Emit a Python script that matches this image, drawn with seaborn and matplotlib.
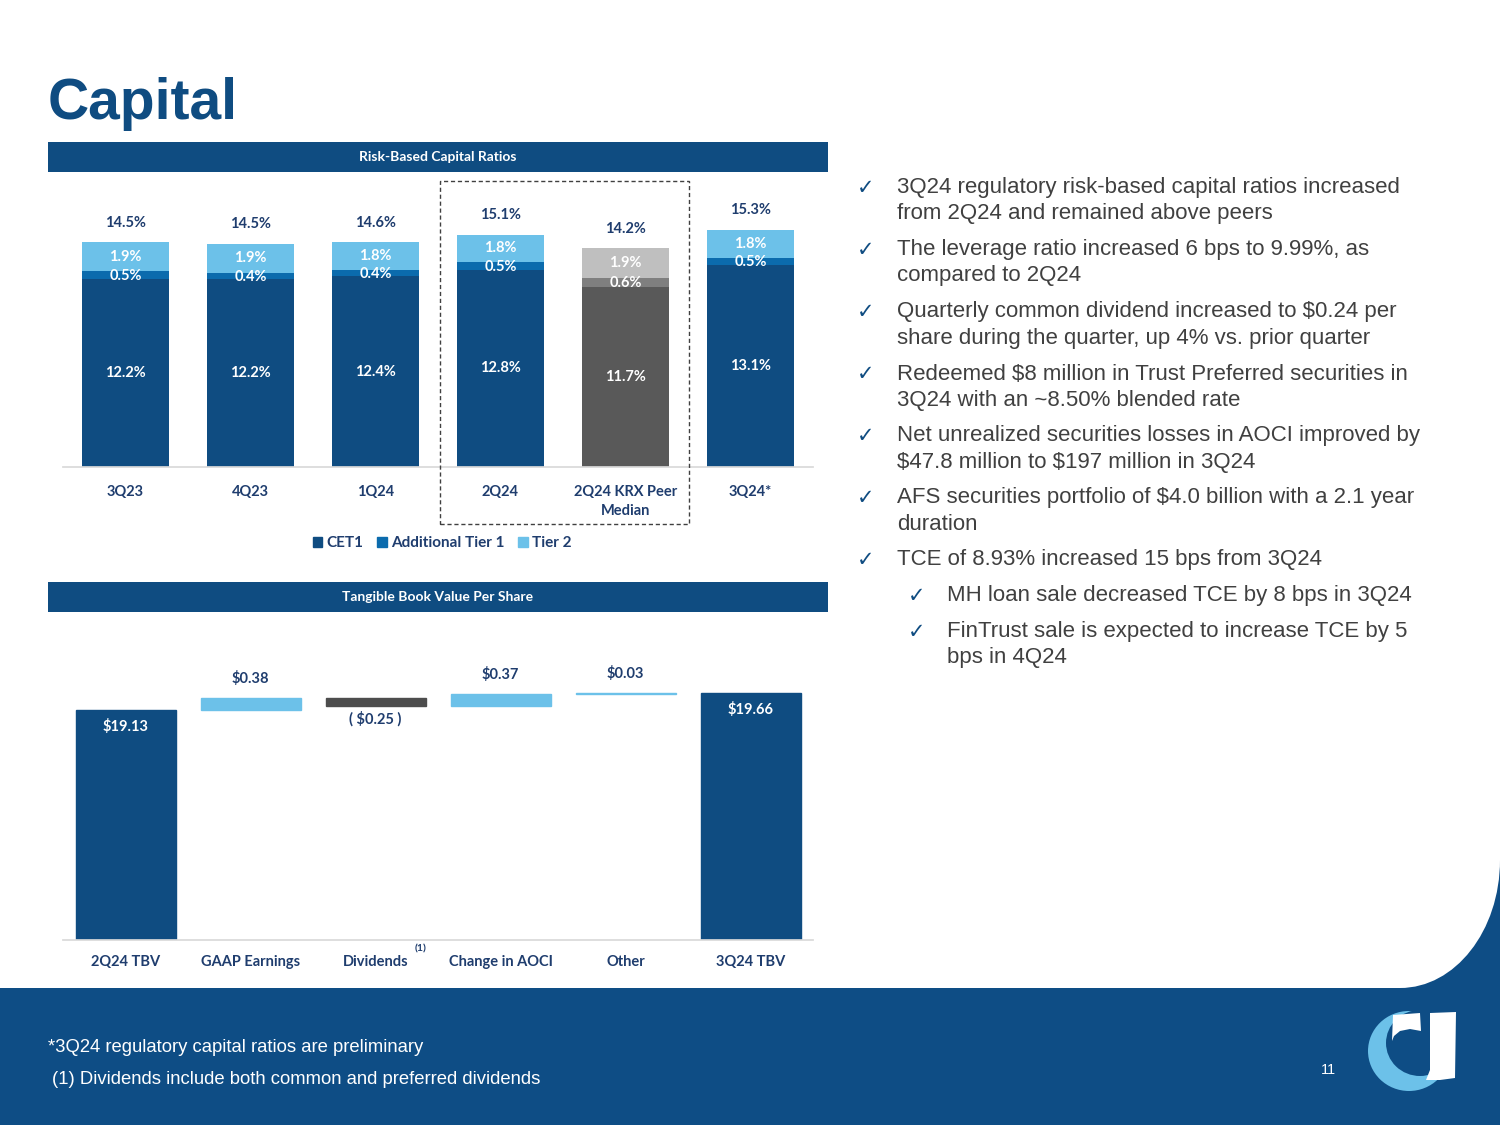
import numpy as np
import pandas as pd
import matplotlib
matplotlib.use('Agg')
import matplotlib.pyplot as plt
import seaborn as sns
from matplotlib.patches import Rectangle, Patch, PathPatch, Ellipse, Polygon
from matplotlib.path import Path

# risk-based capital ratios (%)
periods = ['3Q23', '4Q23', '1Q24', '2Q24', '2Q24 KRX Peer\nMedian', '3Q24*']
peer = '2Q24 KRX Peer\nMedian'
cet1 = [12.2, 12.2, 12.4, 12.8, 11.7, 13.1]
at1 = [0.5, 0.4, 0.4, 0.5, 0.6, 0.5]
tier2 = [1.9, 1.9, 1.8, 1.8, 1.9, 1.8]
totals = [14.5, 14.5, 14.6, 15.1, 14.2, 15.3]

# tangible book value per share walk ($)
tbv_steps = ['2Q24 TBV', 'GAAP Earnings', 'Dividends', 'Change in AOCI', 'Other', '3Q24 TBV']
tbv_start = 19.13
tbv_changes = [0.38, -0.25, 0.37, 0.03]
tbv_end = 19.66

bullets = [
    (0, ['3Q24 regulatory risk-based capital ratios increased', 'from 2Q24 and remained above peers']),
    (0, ['The leverage ratio increased 6 bps to 9.99%, as', 'compared to 2Q24']),
    (0, ['Quarterly common dividend increased to $0.24 per', 'share during the quarter, up 4% vs. prior quarter']),
    (0, ['Redeemed $8 million in Trust Preferred securities in', '3Q24 with an ~8.50% blended rate']),
    (0, ['Net unrealized securities losses in AOCI improved by', '$47.8 million to $197 million in 3Q24']),
    (0, ['AFS securities portfolio of $4.0 billion with a 2.1 year', 'duration']),
    (0, ['TCE of 8.93% increased 15 bps from 3Q24']),
    (1, ['MH loan sale decreased TCE by 8 bps in 3Q24']),
    (1, ['FinTrust sale is expected to increase TCE by 5', 'bps in 4Q24']),
]

NAVY = '#0F4C81'
MID = '#0B6BAD'
LIGHT = '#6CC1E9'
GRAY_D = '#595959'
GRAY_M = '#7F7F7F'
GRAY_L = '#BFBFBF'
LABEL = '#1F3D6E'
TEXT = '#404040'
FOOT = '#0E4D85'

sns.set_theme(style='white')
plt.rcParams['font.family'] = ['Lato', 'DejaVu Sans']

W, H = 1500, 1125
fig = plt.figure(figsize=(15, 11.25), dpi=100)
fig.patch.set_facecolor('white')


def fx(x):
    return x / W


def fy(y):
    return 1 - y / H


# title + section headers
fig.text(fx(48), fy(119), 'Capital', size=41, weight='bold', color=NAVY,
         family='Liberation Sans', va='baseline')
for y0, title in [(142, 'Risk-Based Capital Ratios'), (582, 'Tangible Book Value Per Share')]:
    fig.add_artist(Rectangle((fx(48), fy(y0 + 30)), 780 / W, 30 / H,
                             transform=fig.transFigure, color=NAVY, lw=0))
    fig.text(fx(438), fy(y0 + 15), title, color='white', weight='bold', size=10,
             ha='center', va='center')

# ---- risk-based capital ratios (stacked) ----
ax1 = fig.add_axes([fx(63), fy(467), 750 / W, 287 / H])
df = pd.DataFrame({'period': periods, 'cet1': cet1, 'at1': at1, 'tier2': tier2})
df['top_at1'] = df['cet1'] + df['at1']
df['top_t2'] = df['top_at1'] + df['tier2']

for col, c, c_peer in [('top_t2', LIGHT, GRAY_L), ('top_at1', MID, GRAY_M), ('cet1', NAVY, GRAY_D)]:
    pal = {p: (c_peer if p == peer else c) for p in periods}
    sns.barplot(data=df, x='period', y=col, hue='period', palette=pal, order=periods,
                hue_order=periods, dodge=False, legend=False, width=0.7, saturation=1,
                errorbar=None, linewidth=0, ax=ax1)

for i in range(len(periods)):
    seg_kw = dict(color='white', ha='center', va='center', weight='bold', size=10.5)
    ax1.text(i, cet1[i] / 2, f'{cet1[i]:.1f}%', **seg_kw)
    ax1.text(i, df['cet1'][i] + at1[i] / 2 - 0.05, f'{at1[i]:.1f}%', **seg_kw)
    ax1.text(i, df['top_at1'][i] + tier2[i] / 2, f'{tier2[i]:.1f}%', **seg_kw)
    ax1.annotate(f'{totals[i]:.1f}%', (i, df['top_t2'][i]), xytext=(0, 14),
                 textcoords='offset points', ha='center', va='center',
                 color=LABEL, weight='bold', size=10.5)

ax1.set_ylim(0, 18.64)
ax1.set_xlim(-0.5, 5.5)
ax1.set(xlabel='', ylabel='')
ax1.set_yticks([])
sns.despine(ax=ax1, left=True)
ax1.spines['bottom'].set_color('#D9D9D9')
ax1.tick_params(axis='x', length=0, pad=13, labelsize=10.5, labelcolor=LABEL)
for lab in ax1.get_xticklabels():
    lab.set_fontweight('bold')
    lab.set_linespacing(1.45)

handles = [Patch(color=NAVY), Patch(color=MID), Patch(color=LIGHT)]
leg = fig.legend(handles, ['CET1', 'Additional Tier 1', 'Tier 2'], loc='center',
                 bbox_to_anchor=(fx(442), fy(543)), ncol=3, frameon=False,
                 handlelength=0.65, handleheight=0.65, handletextpad=0.25,
                 columnspacing=0.9, prop=dict(weight='bold', size=11))
for t in leg.get_texts():
    t.set_color(LABEL)

# dashed box around the 2Q24 comparison
fig.add_artist(Rectangle((fx(440), fy(524)), 249 / W, 343 / H, transform=fig.transFigure,
                         fill=False, ec='#404040', lw=1, ls=(0, (3, 2))))

# ---- tangible book value walk ----
ax2 = fig.add_axes([fx(63), fy(940), 750 / W, 300 / H])
levels = np.cumsum([tbv_start] + tbv_changes)
heights = [tbv_start] + [abs(c) for c in tbv_changes] + [tbv_end]
bottoms = [0] + [min(levels[i], levels[i + 1]) for i in range(len(tbv_changes))] + [0]
colors = [NAVY] + [LIGHT if c > 0 else '#4D4D4D' for c in tbv_changes] + [NAVY]

for i, step in enumerate(tbv_steps):
    sns.barplot(x=[step], y=[heights[i]], order=tbv_steps, bottom=bottoms[i],
                color=colors[i], width=0.8, saturation=1, errorbar=None,
                linewidth=1, edgecolor=colors[i], ax=ax2)

for i, step in enumerate(tbv_steps):
    top = bottoms[i] + heights[i]
    if i in (0, len(tbv_steps) - 1):
        ax2.annotate(f'${heights[i]:.2f}', (i, top), xytext=(0, -12), textcoords='offset points',
                     ha='center', va='center', color='white', weight='bold', size=10.5)
    elif tbv_changes[i - 1] > 0:
        ax2.annotate(f'${tbv_changes[i - 1]:.2f}', (i, top), xytext=(0, 14),
                     textcoords='offset points', ha='center', va='center',
                     color=LABEL, weight='bold', size=10.5)
    else:
        ax2.annotate(f'( ${abs(tbv_changes[i - 1]):.2f} )', (i, bottoms[i]), xytext=(0, -9.5),
                     textcoords='offset points', ha='center', va='center',
                     color=LABEL, weight='bold', size=10.5)

ax2.set_ylim(11.7, 21.38)
ax2.set_xlim(-0.5, 5.5)
ax2.set(xlabel='', ylabel='')
ax2.set_yticks([])
sns.despine(ax=ax2, left=True)
ax2.spines['bottom'].set_color('#D9D9D9')
ax2.tick_params(axis='x', length=0, pad=11, labelsize=10.5, labelcolor=LABEL)
for lab in ax2.get_xticklabels():
    lab.set_fontweight('bold')
fig.text(fx(421), fy(949), '(1)', size=7.5, weight='bold', color=LABEL, ha='center', va='center')

# ---- commentary ----
y = 188
for level, lines in bullets:
    xc, xt = (857, 897) if level == 0 else (908, 947)
    fig.text(fx(xc), fy(y), '\u2713', family=['DejaVu Sans'], size=15, color=NAVY,
             ha='left', va='center')
    for k, line in enumerate(lines):
        fig.text(fx(xt), fy(y + 26 * k), line, family='Liberation Sans', size=16,
                 color=TEXT, ha='left', va='center', parse_math=False)
    y += 26 * (len(lines) - 1) + 36

# ---- footer band with rounded corner ----
verts = [(0, 988), (1400, 988), (1455, 988), (1500, 931), (1500, 860),
         (1500, 1125), (0, 1125), (0, 988)]
codes = [Path.MOVETO, Path.LINETO, Path.CURVE4, Path.CURVE4, Path.CURVE4,
         Path.LINETO, Path.LINETO, Path.CLOSEPOLY]
footer = Path([(fx(a), fy(b)) for a, b in verts], codes)
fig.add_artist(PathPatch(footer, transform=fig.transFigure, fc=FOOT, ec='none'))

fig.text(fx(48), fy(1047), '*3Q24 regulatory capital ratios are preliminary',
         family='Liberation Sans', size=13.3, color='white', va='center', parse_math=False)
fig.text(fx(52), fy(1079), '(1) Dividends include both common and preferred dividends',
         family='Liberation Sans', size=13.3, color='white', va='center', parse_math=False)
fig.text(fx(1328), fy(1070), '11', family='Liberation Sans', size=10.5, color='white',
         ha='center', va='center')

# logo
fig.add_artist(Ellipse((fx(1409), fy(1051)), 82 / W, 80 / H, transform=fig.transFigure,
                       fc=LIGHT, ec='none'))
fig.add_artist(Ellipse((fx(1420), fy(1043)), 68 / W, 66 / H, transform=fig.transFigure,
                       fc=FOOT, ec='none'))
fig.add_artist(Polygon([(fx(a), fy(b)) for a, b in
                        [(1393, 1015), (1420, 1013), (1421, 1031), (1410, 1029),
                         (1400, 1031), (1394, 1036), (1392, 1041)]],
                       transform=fig.transFigure, fc='white', ec='none'))
fig.add_artist(Polygon([(fx(a), fy(b)) for a, b in
                        [(1430, 1013), (1456, 1012), (1455, 1078), (1440, 1080), (1426, 1080),
                         (1430, 1070)]],
                       transform=fig.transFigure, fc='white', ec='none'))

fig.savefig('out.png', dpi=100, facecolor='white')
